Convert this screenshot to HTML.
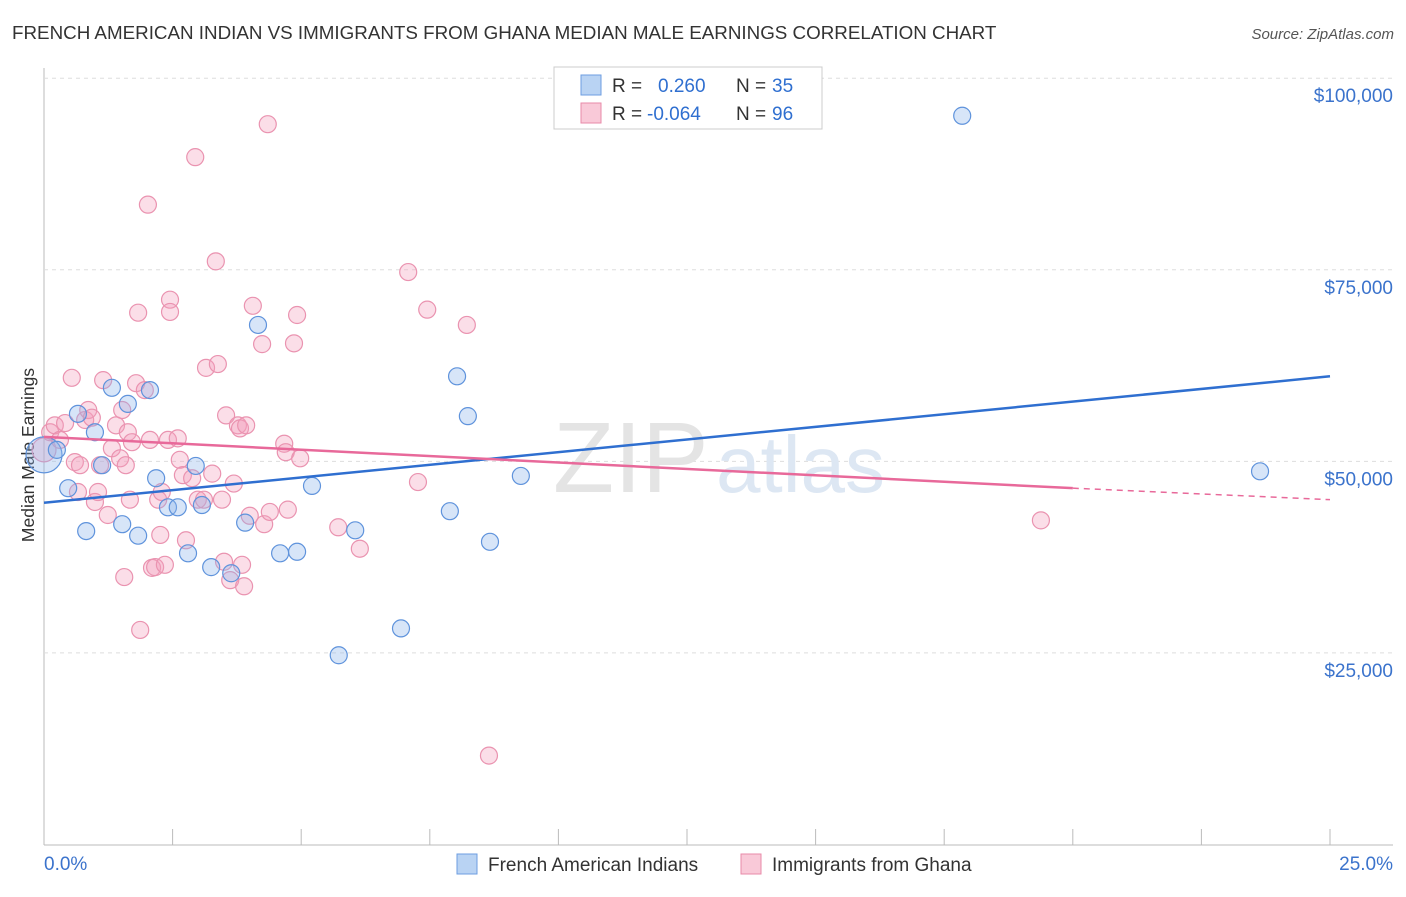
<!DOCTYPE html>
<html><head><meta charset="utf-8"><style>
body{margin:0;background:#fff;font-family:"Liberation Sans",sans-serif;}
svg text{font-family:"Liberation Sans",sans-serif;}
</style></head><body>
<svg id="chart" width="1406" height="892" xmlns="http://www.w3.org/2000/svg">
<text x="12" y="39" font-size="18.8" fill="#333">FRENCH AMERICAN INDIAN VS IMMIGRANTS FROM GHANA MEDIAN MALE EARNINGS CORRELATION CHART</text>
<text x="1394" y="39" font-size="15" fill="#555" text-anchor="end" font-style="italic">Source: ZipAtlas.com</text>
<text transform="translate(34,455) rotate(-90)" font-size="17.5" fill="#333" text-anchor="middle">Median Male Earnings</text>
<g id="grid"></g>
<text x="553" y="492" font-size="100" fill="#e4e4e4" font-family="Liberation Serif">ZIP</text>
<text x="716" y="492" font-size="80" fill="#dde7f3">atlas</text>
<g id="pts"></g>
<g id="lines"></g>
<g>
<rect x="554" y="67" width="268" height="62" fill="#fff" stroke="#ccc"/>
<rect x="581" y="75" width="20" height="20" fill="#b9d3f3" stroke="#6d9ee0"/>
<text x="612" y="92" font-size="19" fill="#333">R = </text><text x="658" y="92" font-size="19" fill="#2f6fd0">0.260</text>
<text x="736" y="92" font-size="19" fill="#333">N = </text><text x="772" y="92" font-size="19" fill="#2f6fd0">35</text>
<rect x="581" y="103" width="20" height="20" fill="#f9c9d8" stroke="#e88aa8"/>
<text x="612" y="120" font-size="19" fill="#333">R = </text><text x="647" y="120" font-size="19" fill="#2f6fd0">-0.064</text>
<text x="736" y="120" font-size="19" fill="#333">N = </text><text x="772" y="120" font-size="19" fill="#2f6fd0">96</text>
</g>
<g>
<rect x="457" y="854" width="20" height="20" fill="#b9d3f3" stroke="#6d9ee0"/>
<text x="488" y="871" font-size="19" fill="#333">French American Indians</text>
<rect x="741" y="854" width="20" height="20" fill="#f9c9d8" stroke="#e88aa8"/>
<text x="772" y="871" font-size="19" fill="#333">Immigrants from Ghana</text>
</g>
</svg>
<script>
const xTicks=[0,2.5,5,7.5,10,12.5,15,17.5,20,22.5,25];
const yTicks=[25000,50000,75000,100000];
const yTickLabels=["$25,000","$50,000","$75,000","$100,000"];
const blueX=[0,0.25,0.47,0.82,0.66,0.99,1.13,1.32,1.52,1.63,1.83,2.06,2.18,2.41,2.60,2.80,2.95,3.07,3.25,3.64,3.91,4.16,4.59,4.92,5.21,5.73,6.05,6.94,7.89,8.03,8.24,8.67,9.27,17.85,23.64];
const blueY=[50850,51500,46500,40900,56200,53800,49500,59600,41800,57500,40300,59300,47800,44000,44000,38000,49400,44300,36200,35400,42000,67800,38000,38200,46800,24700,41000,28200,43500,61100,55900,39500,48100,95100,48700];
const pinkX=[0,0.12,0.21,0.31,0.41,0.54,0.60,0.66,0.70,0.80,0.86,0.93,0.99,1.05,1.09,1.15,1.24,1.32,1.40,1.48,1.52,1.56,1.59,1.63,1.67,1.71,1.79,1.83,1.87,1.96,2.02,2.06,2.10,2.16,2.22,2.26,2.29,2.35,2.41,2.45,2.45,2.60,2.64,2.70,2.76,2.88,2.94,2.99,3.11,3.15,3.27,3.34,3.38,3.46,3.50,3.54,3.62,3.69,3.77,3.81,3.85,3.89,3.93,4.00,4.06,4.24,4.28,4.35,4.39,4.67,4.70,4.74,4.86,4.92,4.98,5.72,6.14,7.08,7.27,7.45,8.22,8.65,19.38];
const pinkY=[51500,53800,54700,52800,55000,60900,49900,46000,49500,55400,56700,55700,44700,46000,49500,60600,43000,51700,54700,50400,56700,34900,49500,53800,45000,52500,60200,69400,28000,59300,83500,52800,36100,36200,45000,40400,46000,36500,52800,71100,69500,53000,50200,48200,39700,47800,89700,45000,45000,62200,48400,76100,62700,45000,36900,56000,34500,47100,54700,54300,36500,33700,54700,42900,70300,65300,41800,94000,43400,52300,51200,43700,65400,69100,50400,41400,38600,74700,47300,69800,67800,11600,42300];
const blueTrend=[44600,61100];   // values at 0% and 25%
const pinkTrend=[53200,46500,45000]; // at 0%, 20% (end solid), 25%
const X=p=>44+p*51.44, Y=v=>844.5-v/130.5;
const NS="http://www.w3.org/2000/svg";
function mk(t,a,parent){const e=document.createElementNS(NS,t);for(const k in a)e.setAttribute(k,a[k]);document.getElementById(parent).appendChild(e);return e;}
let e;
e=mk('line',{x1:44,y1:68,x2:44,y2:845,stroke:'#bbb'},'grid');


e=mk('line',{x1:44,y1:845,x2:1393,y2:845,stroke:'#bbb'},'grid');


yTicks.forEach((v,i)=>{
 e=mk('line',{x1:44,x2:1393,y1:Y(v),y2:Y(v),stroke:'#ddd','stroke-dasharray':'4,4'},'grid');
 
 
 e=mk('text',{x:1393,y:Y(v)+24,'font-size':19,fill:'#3b73cc','text-anchor':'end'},'grid');
 e.textContent=yTickLabels[i];
 
 
});
xTicks.forEach((p,i)=>{
 if(i==0)return;
 e=mk('line',{x1:X(p),x2:X(p),y1:829,y2:845,stroke:'#bbb'},'grid');
 
 
});
e=mk('text',{x:44,y:870,'font-size':19,fill:'#3b73cc'},'grid');e.textContent='0.0%';


e=mk('text',{x:1393,y:870,'font-size':19,fill:'#3b73cc','text-anchor':'end'},'grid');e.textContent='25.0%';


pinkX.forEach((p,i)=>{
 e=mk('circle',{cx:X(p),cy:Y(pinkY[i]),r:i==0?12:8.5,fill:'rgba(244,160,188,0.35)',stroke:'#ea93b0','stroke-width':1.2},'pts');
 
 
});
blueX.forEach((p,i)=>{
 e=mk('circle',{cx:X(p),cy:Y(blueY[i]),r:i==0?18:8.5,fill:'rgba(140,180,235,0.35)',stroke:'#5f93dc','stroke-width':1.2},'pts');
 
 
});
e=mk('line',{x1:X(0),y1:Y(blueTrend[0]),x2:X(25),y2:Y(blueTrend[1]),stroke:'#2f6fd0','stroke-width':2.5},'lines');


e=mk('line',{x1:X(0),y1:Y(pinkTrend[0]),x2:X(20),y2:Y(pinkTrend[1]),stroke:'#e8699a','stroke-width':2.5},'lines');


e=mk('line',{x1:X(20),y1:Y(pinkTrend[1]),x2:X(25),y2:Y(pinkTrend[2]),stroke:'#e8699a','stroke-width':1.5,'stroke-dasharray':'6,5'},'lines');


</script>
</body></html>
